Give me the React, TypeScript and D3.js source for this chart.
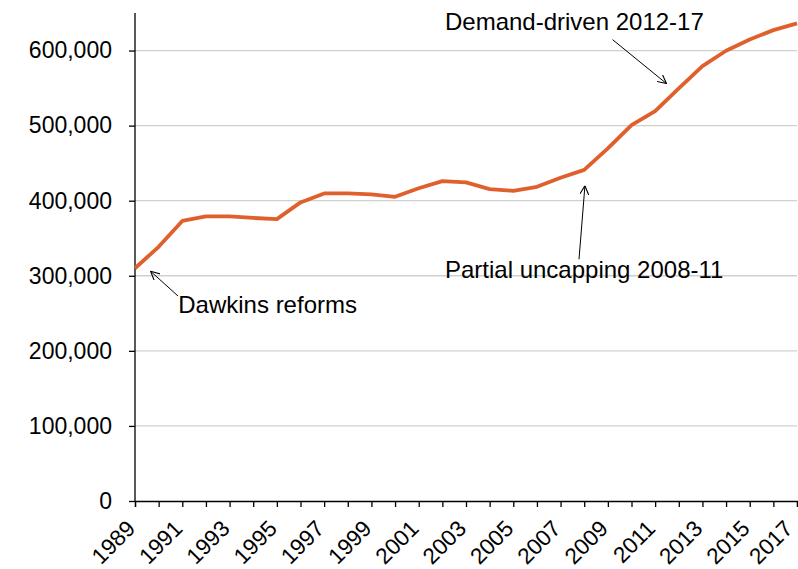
import { useEffect, useRef } from "react";
import * as d3 from "d3";

const years = [
  1989, 1990, 1991, 1992, 1993, 1994, 1995, 1996, 1997, 1998, 1999, 2000, 2001, 2002, 2003,
  2004, 2005, 2006, 2007, 2008, 2009, 2010, 2011, 2012, 2013, 2014, 2015, 2016, 2017,
];
const students = [
  310000, 338600, 373000, 379000, 379000, 377000, 375500, 397700, 409700, 409700, 408400,
  405200, 416500, 426100, 424300, 415400, 413200, 418500, 430500, 441000, 469600, 500700,
  519300, 549500, 579200, 599700, 614800, 627200, 636100,
];
const yTicks = [0, 100000, 200000, 300000, 400000, 500000, 600000];
const xTickLabels = [1989, 1991, 1993, 1995, 1997, 1999, 2001, 2003, 2005, 2007, 2009, 2011, 2013, 2015, 2017];
const notes = [
  { text: "Dawkins reforms", tx: 1990.83, ty: 250500, fromYear: 1990.82, fromVal: 273000, toYear: 1989.66, toVal: 306000 },
  { text: "Partial uncapping 2008-11", tx: 2002.11, ty: 296500, fromYear: 2007.78, fromVal: 322000, toYear: 2008.03, toVal: 420000 },
  { text: "Demand-driven 2012-17", tx: 2002.11, ty: 628000, fromYear: 2009.2, fromVal: 614500, toYear: 2011.48, toVal: 556000 },
];

export default function App() {
  const ref = useRef<HTMLDivElement>(null);

  useEffect(() => {
    if (!ref.current) return;
    document.body.style.margin = "0";

    const width = 798;
    const height = 569;
    const margin = { top: 13, right: 1, bottom: 68, left: 135 };
    const font = "'Liberation Sans', Arial, sans-serif";

    const svg = d3
      .select(ref.current)
      .html("")
      .append("svg")
      .attr("width", width)
      .attr("height", height)
      .style("display", "block")
      .style("background", "#fff");

    const x = d3.scaleLinear()
      .domain([1989, 2017])
      .range([margin.left, width - margin.right]);

    const y = d3.scaleLinear()
      .domain([0, 650000])
      .range([height - margin.bottom, margin.top]);

    // Gridlines
    svg.append("g")
      .selectAll("line")
      .data(yTicks.filter(d => d > 0))
      .enter()
      .append("line")
      .attr("x1", margin.left)
      .attr("x2", width - margin.right)
      .attr("y1", d => y(d))
      .attr("y2", d => y(d))
      .attr("stroke", "#d0d0d0")
      .attr("stroke-width", 1.3);

    // Y axis
    const yAxis = svg.append("g")
      .attr("transform", `translate(${margin.left},0)`)
      .call(d3.axisLeft(y).tickValues(yTicks).tickSize(6).tickPadding(17).tickFormat(d3.format(",")));
    yAxis.select(".domain").attr("d", `M0,${y(0)}V${margin.top}`).attr("stroke", "#000").attr("stroke-width", 1.3);
    yAxis.selectAll("line").attr("stroke", "#000").attr("stroke-width", 1.3);
    yAxis.selectAll("text")
      .attr("font-family", font)
      .attr("font-size", 23)
      .attr("fill", "#000");

    // X axis
    const xAxis = svg.append("g")
      .attr("transform", `translate(0,${y(0)})`)
      .call(d3.axisBottom(x).tickValues(years).tickSize(6).tickFormat(() => ""));
    xAxis.select(".domain").attr("stroke", "#000").attr("stroke-width", 1.3);
    xAxis.selectAll("line").attr("stroke", "#000").attr("stroke-width", 1.3);

    // Rotated year labels (last one nudged so it stays inside the frame)
    svg.append("g")
      .selectAll("text")
      .data(xTickLabels)
      .enter()
      .append("text")
      .attr("transform", d => `translate(${Math.min(x(d) + 1.5, width - 4)},${y(0) + 29}) rotate(-45)`)
      .attr("text-anchor", "end")
      .attr("font-family", font)
      .attr("font-size", 22.5)
      .attr("fill", "#000")
      .text(d => d);

    // Line
    const line = d3.line<number>()
      .x((_, i) => x(years[i]))
      .y(d => y(d));

    svg.append("path")
      .datum(students)
      .attr("fill", "none")
      .attr("stroke", "#E0602D")
      .attr("stroke-width", 3.8)
      .attr("stroke-linejoin", "round")
      .attr("d", line);

    // Annotations
    const defs = svg.append("defs");
    defs.append("marker")
      .attr("id", "arrow")
      .attr("viewBox", "0 0 10 10")
      .attr("refX", 10)
      .attr("refY", 5)
      .attr("markerWidth", 9)
      .attr("markerHeight", 9)
      .attr("orient", "auto")
      .attr("markerUnits", "userSpaceOnUse")
      .append("path")
      .attr("d", "M0,0L10,5L0,10")
      .attr("fill", "none")
      .attr("stroke", "#000")
      .attr("stroke-width", 1.2);

    const g = svg.append("g");
    notes.forEach(n => {
      g.append("line")
        .attr("x1", x(n.fromYear))
        .attr("y1", y(n.fromVal))
        .attr("x2", x(n.toYear))
        .attr("y2", y(n.toVal))
        .attr("stroke", "#000")
        .attr("stroke-width", 1)
        .attr("marker-end", "url(#arrow)");
      g.append("text")
        .attr("x", x(n.tx))
        .attr("y", y(n.ty))
        .attr("font-family", font)
        .attr("font-size", 24)
        .attr("fill", "#000")
        .text(n.text);
    });
  }, []);

  return <div ref={ref}></div>;
}
